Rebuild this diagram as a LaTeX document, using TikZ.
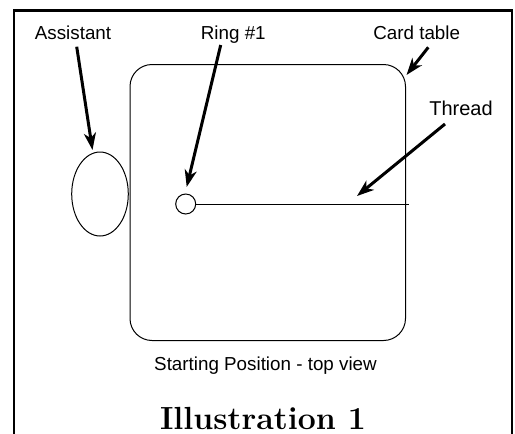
\documentclass[tikz,border=0pt]{standalone}
\usepackage{fontspec}
\setmainfont{Liberation Sans}
\usetikzlibrary{arrows.meta}
\begin{document}
\begin{tikzpicture}[x=1pt,y=-1pt,
  lbl/.style={font=\fontsize{18.8}{22}\selectfont, anchor=base, inner sep=0pt},
  thin line/.style={line width=1pt},
  pointer/.style={line width=3pt, -{Stealth[length=17pt, width=12pt, inset=5pt]}, shorten >=0pt}]
\useasboundingbox (0,0) rectangle (515,434);
\clip (0,0) rectangle (515,434);
\fill[white] (0,0) rectangle (515,434);
% frame
\draw[line width=2.6pt] (14,440) -- (14,10.5) -- (512,10.5) -- (512,440);
% card table
\draw[thin line, rounded corners=22pt] (130,64.5) rectangle (405.5,340.5);
% assistant
\draw[thin line] (100,194) ellipse [x radius=28.3, y radius=42];
% ring
\node[draw, thin line, circle, minimum size=20pt, inner sep=0pt] (ring) at (185.7,204) {};
\coordinate (threadend) at (408.5,204);
\draw[thin line] (ring.east) -- (threadend);
% labels
\node[lbl] (assistant) at (73,39) {Assistant};
\node[lbl] (ringlbl) at (233.3,39) {Ring \#1};
\node[lbl] (cardlbl) at (416.7,39) {Card table};
\node[lbl, font=\fontsize{20}{24}\selectfont] (threadlbl) at (461,115) {Thread};
\node[lbl] (caption) at (265.5,370) {Starting Position - top view};
\node[anchor=base, inner sep=0pt, font=\fontspec{Latin Modern Roman}\bfseries\fontsize{32}{36}\selectfont] (title) at (263,429.5) {Illustration 1};
% arrows
\coordinate (a1s) at (76.7,46.7); \coordinate (a1e) at (92.5,150);
\coordinate (a2s) at (220.7,45);  \coordinate (a2e) at (186.7,187);
\coordinate (a3s) at (428.3,47.3); \coordinate (a3e) at (406.5,75);
\coordinate (a4s) at (445,124);   \coordinate (a4e) at (357,196);
\draw[pointer] (a1s) -- (a1e);
\draw[pointer] (a2s) -- (a2e);
\draw[pointer] (a3s) -- (a3e);
\draw[pointer] (a4s) -- (a4e);
\end{tikzpicture}
\end{document}
